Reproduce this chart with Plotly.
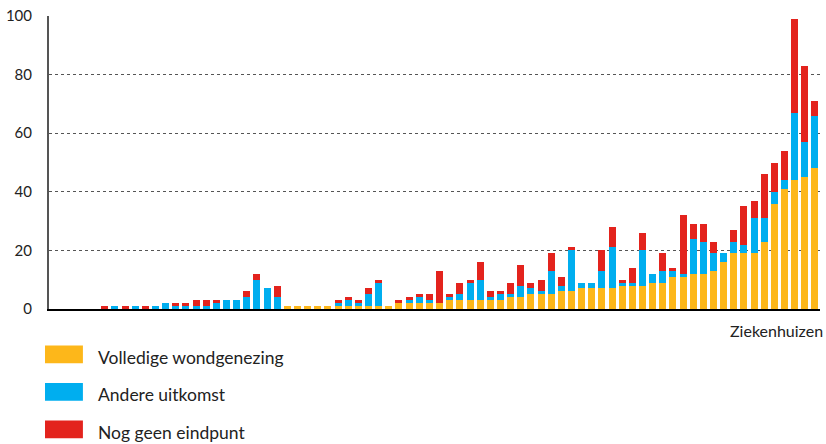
import plotly.graph_objects as go

# uitkomst per ziekenhuis (aantal patiënten)
ziekenhuizen = list(range(1, 77))
volledig = [0, 0, 0, 0, 0, 0, 0, 0, 0, 0, 0, 0, 0, 0, 0, 0, 0, 0, 0, 0,
            0, 0, 0, 1, 1, 1, 1, 1, 1, 1, 1, 1, 1, 1, 2, 2, 2, 2, 2, 3,
            3, 3, 3, 3, 3, 4, 4, 5, 5, 5, 6, 6, 7, 7, 7, 7, 8, 8, 8, 9,
            9, 11, 11, 12, 12, 13, 16, 19, 19, 19, 23, 36, 41, 44, 45, 48]
andere = [0, 0, 0, 0, 0, 0, 1, 0, 1, 0, 1, 2, 1, 1, 1, 1, 2, 3, 3, 4,
          10, 7, 4, 0, 0, 0, 0, 0, 1, 2, 1, 4, 8, 0, 0, 1, 2, 1, 0, 1,
          2, 6, 7, 1, 2, 1, 4, 2, 1, 8, 2, 14, 2, 2, 6, 14, 1, 1, 12, 3,
          4, 2, 1, 12, 11, 6, 3, 4, 3, 12, 8, 4, 3, 23, 12, 18]
geen_eindpunt = [0, 0, 0, 0, 0, 1, 0, 1, 0, 1, 0, 0, 1, 1, 2, 2, 1, 0, 0, 2,
                 2, 0, 4, 0, 0, 0, 0, 0, 1, 1, 1, 2, 1, 0, 1, 1, 1, 2, 11, 1,
                 4, 1, 6, 2, 1, 4, 7, 2, 4, 6, 3, 1, 0, 0, 7, 7, 1, 5, 6, 0,
                 6, 1, 20, 5, 6, 4, 0, 4, 13, 6, 15, 10, 10, 32, 26, 5]

series = [
    ("Volledige wondgenezing", volledig, "#FDB71A"),
    ("Andere uitkomst", andere, "#00AEEF"),
    ("Nog geen eindpunt", geen_eindpunt, "#E3231D"),
]

W, H = 826, 444
L, R, T, B = 47, 6, 12, 135
plot_w = W - L - R
plot_h = H - T - B
font = "Lato"


def px(p):
    return (p - L) / plot_w


def py(p):
    return (H - B - p) / plot_h


fig = go.Figure()
for name, vals, color in series:
    fig.add_trace(go.Bar(x=ziekenhuizen, y=vals, name=name,
                         marker=dict(color=color, line=dict(width=0)),
                         hoverinfo="skip"))

# eigen legenda met brede vlakjes
legend_y = [355, 393, 431]
for (name, vals, color), yc in zip(series, legend_y):
    fig.add_shape(type="rect", xref="paper", yref="paper",
                  x0=px(43), x1=px(81), y0=py(yc + 9), y1=py(yc - 9),
                  fillcolor=color, line=dict(width=0))
    fig.add_annotation(text=name, xref="paper", yref="paper",
                       x=px(94), y=py(yc + 3), xanchor="left", yanchor="middle",
                       showarrow=False, font=dict(size=17.5, color="#222"))

fig.add_annotation(text="Ziekenhuizen", xref="paper", yref="paper",
                   x=px(825), y=py(331), xanchor="right", yanchor="middle",
                   showarrow=False, font=dict(size=16, color="#222"))

fig.update_layout(
    width=W, height=H,
    barmode="stack", bargap=0.31,
    showlegend=False,
    plot_bgcolor="white", paper_bgcolor="white",
    margin=dict(l=L, r=R, t=T, b=B),
    font=dict(family=font, color="#222"),
    xaxis=dict(range=[0.5, 76.5], showticklabels=False, showgrid=False,
               zeroline=False, showline=True, linecolor="black", linewidth=2,
               fixedrange=True),
    yaxis=dict(range=[0, 100], tickvals=[0, 20, 40, 60, 80, 100],
               showgrid=True, gridcolor="#555", griddash="dot", gridwidth=1,
               zeroline=False, showline=True, linecolor="#555", linewidth=2,
               ticks="", ticklabelstandoff=12, tickfont=dict(size=15, color="#222"),
               fixedrange=True),
)

# geen witrand van de pagina zelf
fig.write_html("out.html", config={"displayModeBar": False},
               post_script="document.body.style.margin='0';document.body.style.overflow='hidden';")
